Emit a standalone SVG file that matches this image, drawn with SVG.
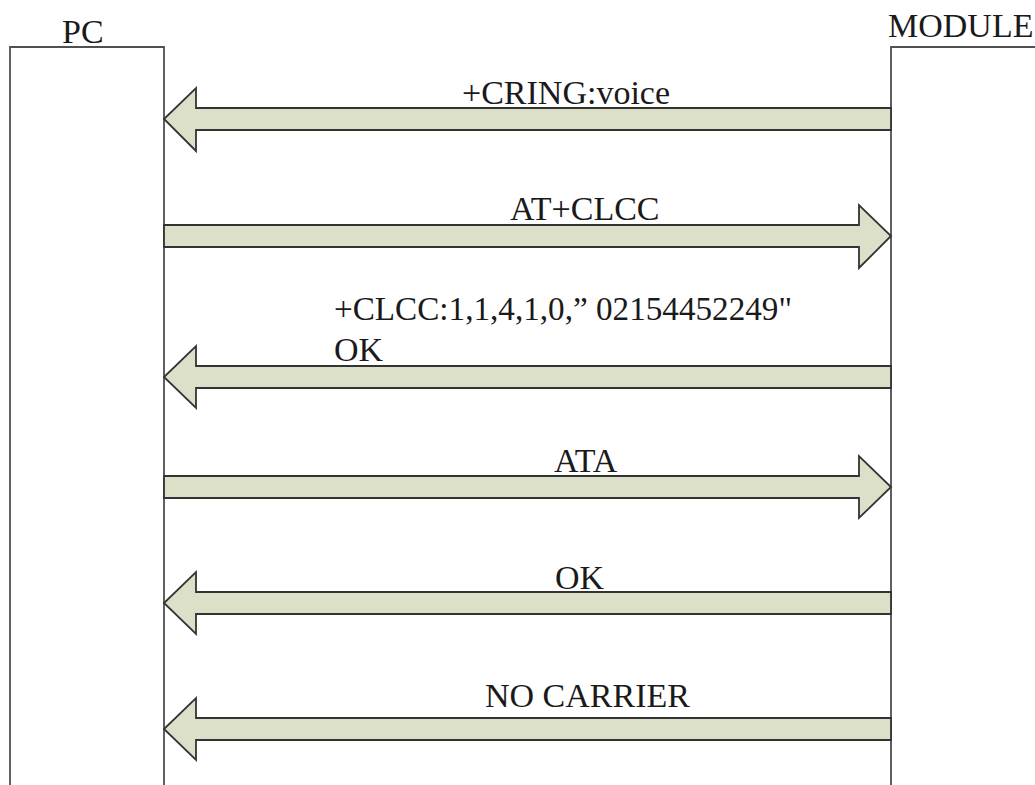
<svg xmlns="http://www.w3.org/2000/svg" width="1035" height="785" viewBox="0 0 1035 785">
<style>
.lane{fill:#ffffff;stroke:#505050;stroke-width:1.8}
.arr{fill:#dce0c9;stroke:#333333;stroke-width:1.8;stroke-linejoin:miter}
.t{font-family:"Liberation Serif","Times New Roman",serif;font-size:34px;fill:#1a1a1a}
</style>
<rect width="1035" height="785" fill="#ffffff"/>
<g id="pc">
<path class="lane" d="M10,790 L10,47 L164,47 L164,790"/>
<text class="t" x="62" y="43">PC</text>
</g>
<g id="module">
<path class="lane" d="M891,790 L891,47 L1040,47"/>
<text class="t" x="888" y="37">MODULE</text>
</g>
<g id="connectors">
<path class="arr" d="M891,108 L196,108 L196,88 L164,119 L196,151 L196,130 L891,130 Z"/>
<text class="t" x="462" y="104">+CRING:voice</text>
<path class="arr" d="M164,225 L859,225 L859,205 L891,236 L859,268 L859,247 L164,247 Z"/>
<text class="t" x="510" y="220">AT+CLCC</text>
<path class="arr" d="M891,366 L196,366 L196,346 L164,377 L196,408 L196,388 L891,388 Z"/>
<text class="t" x="334" y="320" textLength="458" lengthAdjust="spacingAndGlyphs">+CLCC:1,1,4,1,0,” 02154452249"</text>
<text class="t" x="334" y="361">OK</text>
<path class="arr" d="M164,476 L859,476 L859,456 L891,487 L859,518 L859,498 L164,498 Z"/>
<text class="t" x="554" y="472">ATA</text>
<path class="arr" d="M891,592 L196,592 L196,572 L164,603 L196,634 L196,614 L891,614 Z"/>
<text class="t" x="555" y="589">OK</text>
<path class="arr" d="M891,718 L196,718 L196,698 L164,729 L196,760 L196,740 L891,740 Z"/>
<text class="t" x="485" y="707">NO CARRIER</text>
</g>
</svg>
